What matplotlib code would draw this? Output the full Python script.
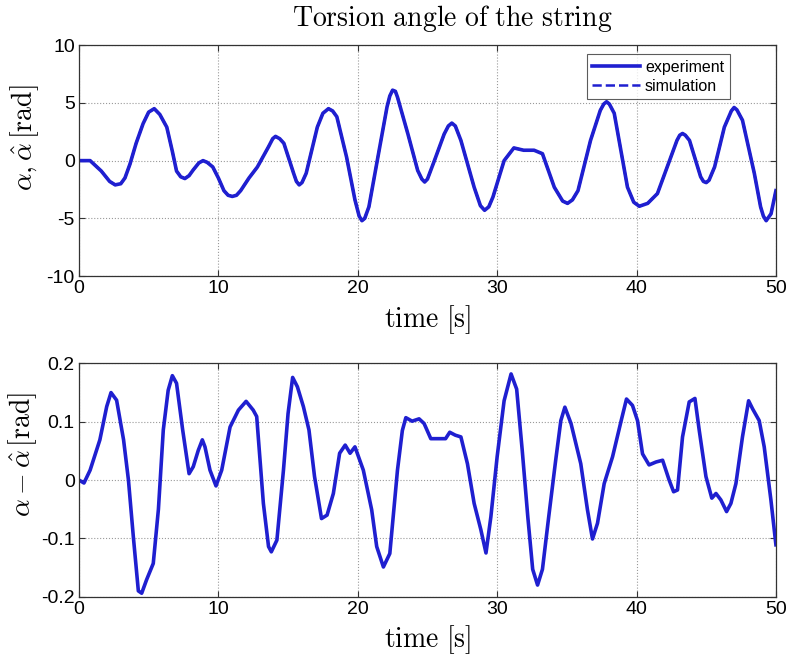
import matplotlib
matplotlib.use("Agg")
import matplotlib.pyplot as plt

plt.rcParams["mathtext.fontset"] = "cm"
plt.rcParams["font.family"] = ["Liberation Sans", "DejaVu Sans"]

# torsion angle alpha (experiment)
angle_t = [0, 0.8, 1.6, 2.2, 2.6, 3.0, 3.3, 3.66, 4.1, 4.6, 5.0, 5.4, 5.8, 6.3, 6.7, 7.0,
           7.3, 7.6, 7.9, 8.2, 8.6, 8.9, 9.2, 9.6, 10.0, 10.4, 10.7, 11.0, 11.3, 11.6,
           12.2, 12.8, 13.6, 13.9, 14.1, 14.4, 14.7, 15.4, 15.6, 15.8, 16.0, 16.3, 17.1,
           17.5, 17.9, 18.2, 18.5, 19.2, 19.8, 20.1, 20.3, 20.5, 20.8, 21.4, 22.1, 22.3,
           22.5, 22.7, 22.85, 23.6, 24.3, 24.6, 24.8, 25.0, 25.5, 26.2, 26.5, 26.75,
           27.0, 27.4, 28.35, 28.8, 29.1, 29.4, 29.7, 30.5, 31.2, 31.9, 32.65, 33.25,
           34.1, 34.7, 35.05, 35.4, 35.8, 36.7, 37.4, 37.65, 37.85, 38.05, 38.4, 39.35,
           39.8, 40.2, 40.8, 41.5, 42.2, 42.9, 43.1, 43.3, 43.5, 43.8, 44.6, 44.8, 45.0,
           45.2, 45.6, 46.3, 46.8, 47.0, 47.2, 47.6, 48.45, 48.9, 49.1, 49.3, 49.65, 50.0]
angle_exp = [0, 0, -0.9, -1.8, -2.1, -2.0, -1.5, -0.3, 1.5, 3.2, 4.2, 4.5, 4.0, 2.9, 0.8,
             -0.9, -1.4, -1.55, -1.3, -0.8, -0.2, 0, -0.15, -0.55, -1.5, -2.6, -3.0,
             -3.1, -3.0, -2.6, -1.5, -0.55, 1.2, 1.9, 2.1, 1.9, 1.5, -1.1, -1.8, -2.1,
             -1.9, -1.1, 2.9, 4.1, 4.5, 4.3, 3.8, 0.3, -3.4, -4.8, -5.2, -5.0, -4.0, 0,
             4.65, 5.6, 6.1, 6.0, 5.5, 2.3, -0.85, -1.6, -1.85, -1.6, 0, 2.3, 3.0, 3.25,
             3.0, 1.75, -2.3, -3.9, -4.3, -4.0, -3.15, 0, 1.1, 0.9, 0.9, 0.6, -2.3,
             -3.5, -3.7, -3.4, -2.6, 1.75, 4.35, 4.9, 5.1, 4.9, 4.1, -2.3, -3.6, -3.95,
             -3.7, -2.85, -0.55, 1.75, 2.2, 2.35, 2.2, 1.75, -1.4, -1.8, -1.9, -1.7,
             -0.55, 2.9, 4.3, 4.6, 4.4, 3.5, -1.1, -4.0, -4.8, -5.2, -4.6, -2.6]
angle_sim = list(angle_exp)  # simulation overlaps the measurement at this scale

# tracking error alpha - alpha_hat
err_t = [0, 0.36, 0.8, 1.5, 1.99, 2.3, 2.7, 3.2, 3.55, 3.9, 4.26, 4.5, 4.85, 5.33, 5.7,
         6.05, 6.4, 6.7, 7.0, 7.44, 7.9, 8.2, 8.56, 8.85, 9.04, 9.4, 9.83, 10.24, 10.84,
         11.44, 11.99, 12.5, 12.75, 13.23, 13.6, 13.8, 14.2, 14.67, 15.0, 15.33, 15.67,
         16.1, 16.5, 16.9, 17.4, 17.8, 18.25, 18.7, 19.1, 19.45, 19.8, 20.4, 21.0, 21.36,
         21.84, 22.3, 22.85, 23.2, 23.45, 23.9, 24.4, 24.76, 25.24, 25.96, 26.3, 26.6,
         27.0, 27.4, 27.87, 28.35, 28.83, 29.2, 29.55, 30.0, 30.5, 31.0, 31.4, 31.8, 32.2,
         32.55, 32.9, 33.25, 33.7, 34.2, 34.57, 34.86, 35.3, 36.0, 36.48, 36.84, 37.2,
         37.68, 38.28, 38.9, 39.28, 39.71, 40.07, 40.43, 40.9, 41.4, 41.87, 42.34, 42.66,
         42.94, 43.3, 43.78, 44.19, 44.5, 44.98, 45.4, 45.7, 46.05, 46.46, 46.77, 47.13,
         47.6, 48.04, 48.33, 48.8, 49.16, 49.64, 50.0]
err_val = [0, -0.005, 0.017, 0.069, 0.126, 0.15, 0.137, 0.069, 0, -0.097, -0.19, -0.194,
           -0.171, -0.143, -0.05, 0.086, 0.154, 0.179, 0.166, 0.086, 0.011, 0.023, 0.051,
           0.069, 0.057, 0.017, -0.01, 0.017, 0.091, 0.12, 0.135, 0.12, 0.109, -0.04,
           -0.114, -0.123, -0.103, 0.017, 0.114, 0.176, 0.16, 0.126, 0.086, 0.006, -0.066,
           -0.06, -0.023, 0.046, 0.06, 0.046, 0.057, 0.017, -0.051, -0.114, -0.149, -0.126,
           0.017, 0.085, 0.107, 0.101, 0.105, 0.097, 0.071, 0.071, 0.071, 0.082, 0.077,
           0.074, 0.028, -0.04, -0.085, -0.125, -0.063, 0.04, 0.136, 0.182, 0.156, 0.051,
           -0.063, -0.153, -0.18, -0.153, -0.063, 0.034, 0.102, 0.125, 0.097, 0.028,
           -0.051, -0.101, -0.074, -0.006, 0.04, 0.102, 0.139, 0.128, 0.102, 0.045, 0.026,
           0.031, 0.034, 0, -0.02, -0.017, 0.074, 0.134, 0.14, 0.085, 0.006, -0.031,
           -0.023, -0.034, -0.054, -0.04, -0.006, 0.074, 0.136, 0.122, 0.102, 0.057,
           -0.034, -0.111]

line_color = "#1f1fd0"
label_size = 20

fig = plt.figure(figsize=(7.92, 6.59), dpi=100)
ax1 = fig.add_axes([0.0997, 0.581, 0.880, 0.3505])
ax2 = fig.add_axes([0.0997, 0.0945, 0.880, 0.354])

ax1.plot(angle_t, angle_exp, color=line_color, lw=2.6, label="experiment")
ax1.plot(angle_t, angle_sim, color=line_color, lw=1.8, ls="--", label="simulation")
ax1.set_ylim(-10, 10)
ax1.set_yticks([-10, -5, 0, 5, 10])
ax1.set_yticklabels(["-10", "-5", "0", "5", "10"])
ax1.set_ylabel(r"$\alpha, \hat{\alpha}\,[\mathrm{rad}]$", fontsize=label_size)
ax1.yaxis.set_label_coords(-0.054, 0.6)
fig.text(0.571, 0.972, r"$\mathrm{Torsion\ angle\ of\ the\ string}$", fontsize=20,
         ha="center", va="center")
leg = ax1.legend(loc="upper right", fontsize=11.5, handlelength=3.0, borderpad=0.35,
                 labelspacing=0.25, handletextpad=0.3, fancybox=False,
                 edgecolor="#333333", bbox_to_anchor=(0.945, 0.995))
leg.get_frame().set_linewidth(0.8)

ax2.plot(err_t, err_val, color=line_color, lw=2.6)
ax2.set_ylim(-0.2, 0.2)
ax2.set_yticks([-0.2, -0.1, 0, 0.1, 0.2])
ax2.set_yticklabels(["-0.2", "-0.1", "0", "0.1", "0.2"])
ax2.set_ylabel(r"$\alpha - \hat{\alpha}\,[\mathrm{rad}]$", fontsize=label_size)
ax2.yaxis.set_label_coords(-0.058, 0.61)

for ax in (ax1, ax2):
    ax.set_xlim(0, 50)
    ax.set_xticks([0, 10, 20, 30, 40, 50])
    ax.set_xlabel(r"$\mathrm{time\ [s]}$", fontsize=label_size, labelpad=4)
    ax.grid(True, ls=":", color="#9a9a9a", lw=0.8)
    ax.tick_params(direction="in", top=True, right=True, labelsize=14, length=4,
                   color="#333333", pad=3)
    for s in ax.spines.values():
        s.set_color("#333333")
        s.set_linewidth(0.9)

fig.savefig("out.png", dpi=100)
